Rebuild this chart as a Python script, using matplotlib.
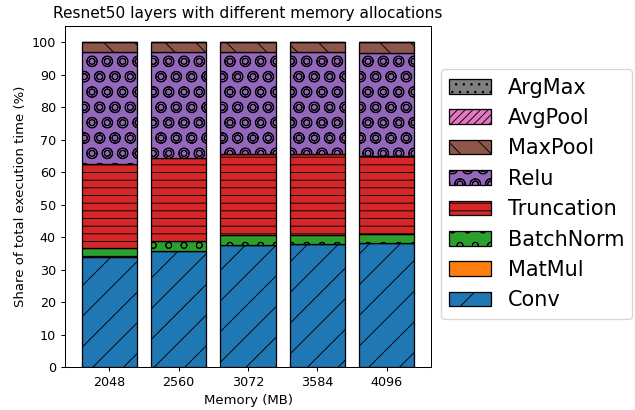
import numpy as np
import matplotlib
matplotlib.use("Agg")
import matplotlib.pyplot as plt

memory = ["2048", "2560", "3072", "3584", "4096"]

conv = [34.0, 35.6, 37.6, 37.9, 38.2]
matmul = [0.05, 0.05, 0.05, 0.05, 0.05]
batchnorm = [2.6, 3.1, 2.9, 2.6, 2.6]
truncation = [26.0, 25.7, 24.9, 25.1, 24.2]
relu = [34.2, 32.4, 31.4, 31.2, 31.5]
avgpool = [0.03, 0.03, 0.03, 0.03, 0.03]
argmax = [0.02, 0.02, 0.02, 0.02, 0.02]
maxpool = [100 - sum(v) for v in zip(conv, matmul, batchnorm, truncation, relu, avgpool, argmax)]

layers = [
    ("Conv", conv, "tab:blue", "/"),
    ("MatMul", matmul, "tab:orange", ""),
    ("BatchNorm", batchnorm, "tab:green", "o"),
    ("Truncation", truncation, "tab:red", "--"),
    ("Relu", relu, "tab:purple", "Oo"),
    ("MaxPool", maxpool, "tab:brown", "\\"),
    ("AvgPool", avgpool, "tab:pink", "////"),
    ("ArgMax", argmax, "tab:gray", ".."),
]

DPI = 92
plt.rcParams["font.size"] = 10
plt.rcParams["hatch.linewidth"] = 0.7

fig = plt.figure(figsize=(635 / DPI, 410 / DPI), dpi=DPI)
ax = fig.add_axes([65 / 635, 1 - 367 / 410, (431 - 65) / 635, (367 - 26) / 410])

x = np.arange(len(memory))
bottom = np.zeros(len(memory))
handles = []
for name, vals, color, hatch in layers:
    vals = np.asarray(vals, dtype=float)
    bars = ax.bar(x, vals, 0.8, bottom=bottom, color=color, edgecolor="black",
                  hatch=hatch, label=name)
    handles.append(bars)
    bottom += vals

ax.set_xticks(x)
ax.set_xticklabels(memory)
ax.set_yticks(np.arange(0, 101, 10))
ax.set_ylim(0, 105)
ax.set_xlabel("Memory (MB)", fontsize=10.4)
ax.set_ylabel("Share of total execution time (%)", fontsize=10.4)
ax.set_title("Resnet50 layers with different memory allocations", fontsize=12)

fig.legend(handles[::-1], [h.get_label() for h in handles[::-1]],
           loc="center left", bbox_to_anchor=(441 / 635, 1 - 194 / 410),
           borderaxespad=0, fontsize=16.3)

fig.savefig("out.png", dpi=DPI)
